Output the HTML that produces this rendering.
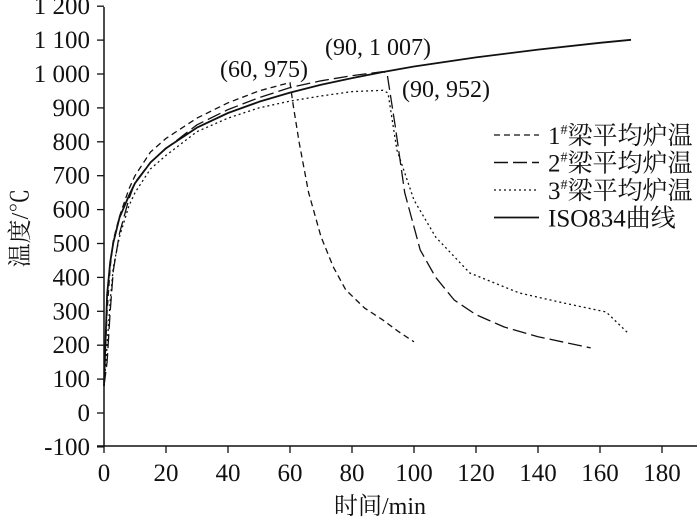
<!DOCTYPE html>
<html><head><meta charset="utf-8"><style>
body{margin:0;background:#fff}
svg text{font-family:"Liberation Serif","Noto Serif CJK SC",serif;fill:#111}
</style></head><body>
<svg id="c" width="700" height="520"></svg>
<script>
const xTicks=[0,20,40,60,80,100,120,140,160,180];
const yTicks=[-100,0,100,200,300,400,500,600,700,800,900,1000,1100,1200];
const yTickLabels=["-100","0","100","200","300","400","500","600","700","800","900","1 000","1 100","1 200"];
const isoT=[0,1,2,3,5,8,10,15,20,30,40,50,60,70,80,90,100,120,140,160,170];
const isoV=[80,349,445,502,576,640,678,739,781,842,885,918,945,968,988,1006,1022,1049,1072,1092,1101];
const b1T=[0,1,2,3,5,8,10,15,20,30,40,50,60,61,63,66,70,74,78,84,90,95,100];
const b1V=[80,300,430,510,580,660,700,770,810,870,915,950,975,910,796,650,520,430,363,310,274,240,210];
const b2T=[0,1,2,3,5,8,10,15,20,30,40,50,60,70,80,90,91.3,94,97,102,107,113,120,129,140,157];
const b2V=[80,150,300,420,530,630,680,740,780,850,895,930,960,980,995,1007,1003,843,650,481,400,333,290,254,225,192];
const b3T=[0,1,2,3,5,8,10,15,20,30,40,50,60,70,80,90,91.6,94.5,100,107,118,134,148,162,169];
const b3V=[80,200,330,430,520,610,650,720,760,830,870,900,920,935,948,952,944,776,628,519,413,354,325,298,236];
const svg=document.getElementById('c');
const NS='http://www.w3.org/2000/svg';
const X=t=>104+t*3.1, Y=v=>413-v*0.339;
function el(tag,attrs,parent){const e=document.createElementNS(NS,tag);for(const k in attrs)e.setAttribute(k,attrs[k]);(parent||svg).appendChild(e);return e;}
const ax=el('g',{});


el('line',{x1:104,y1:7,x2:104,y2:447,stroke:'#111','stroke-width':1.5},ax);
el('line',{x1:97,y1:446,x2:697,y2:446,stroke:'#111','stroke-width':1.5},ax);
xTicks.forEach(t=>{
 el('line',{x1:X(t),y1:446,x2:X(t),y2:453,stroke:'#111','stroke-width':1.3},ax);
 const tx=el('text',{x:X(t),y:481,'text-anchor':'middle','font-size':25},ax);tx.textContent=t;
 
 
});
yTicks.forEach((v,i)=>{
 el('line',{x1:97,y1:Y(v),x2:104,y2:Y(v),stroke:'#111','stroke-width':1.3},ax);
 const tx=el('text',{x:90,y:Y(v)+8,'text-anchor':'end','font-size':25},ax);tx.textContent=yTickLabels[i];
 
 
});
const xt=el('text',{x:380,y:514,'text-anchor':'middle','font-size':24});xt.textContent='时间/min';


const yt=el('text',{x:0,y:0,'text-anchor':'middle','font-size':24,transform:'translate(28,228) rotate(-90)'});yt.textContent='温度/℃';


function series(T,V,dash,w,name){
 const d=T.map((t,i)=>(i?'L':'M')+X(t).toFixed(1)+','+Y(V[i]).toFixed(1)).join('');
 const p=el('path',{d:d,fill:'none',stroke:'#111','stroke-width':w,'stroke-dasharray':dash,'stroke-linejoin':'round'});
 
 
}
series(isoT,isoV,'none',1.8,'iso834-line');
series(b1T,b1V,'6,4',1.3,'beam1-line');
series(b2T,b2V,'14,5',1.3,'beam2-line');
series(b3T,b3V,'2,3',1.3,'beam3-line');
[['(60, 975)',220,77],['(90, 1 007)',325,55],['(90, 952)',402,97]].forEach(a=>{
 const t=el('text',{x:a[1],y:a[2],'font-size':24});t.textContent=a[0];
 
 
});
const leg=[['1','6,4',1.3],['2','14,5',1.6],['3','2,3',1.3],['I','none',1.8]];
const lg=el('g',{});


leg.forEach((l,i)=>{
 const y=135+i*27.5;
 el('line',{x1:494,y1:y,x2:539,y2:y,stroke:'#111','stroke-width':l[2],'stroke-dasharray':l[1]},lg);
 const t=el('text',{x:548,y:y+9,'font-size':25},lg);
 
 
 if(l[0]==='I'){t.textContent='ISO834曲线';}
 else{t.textContent=l[0];const s=el('tspan',{'font-size':14,dy:-10},t);s.textContent='#';const s2=el('tspan',{dy:10},t);s2.textContent='梁平均炉温';}
});
</script>
</body></html>
